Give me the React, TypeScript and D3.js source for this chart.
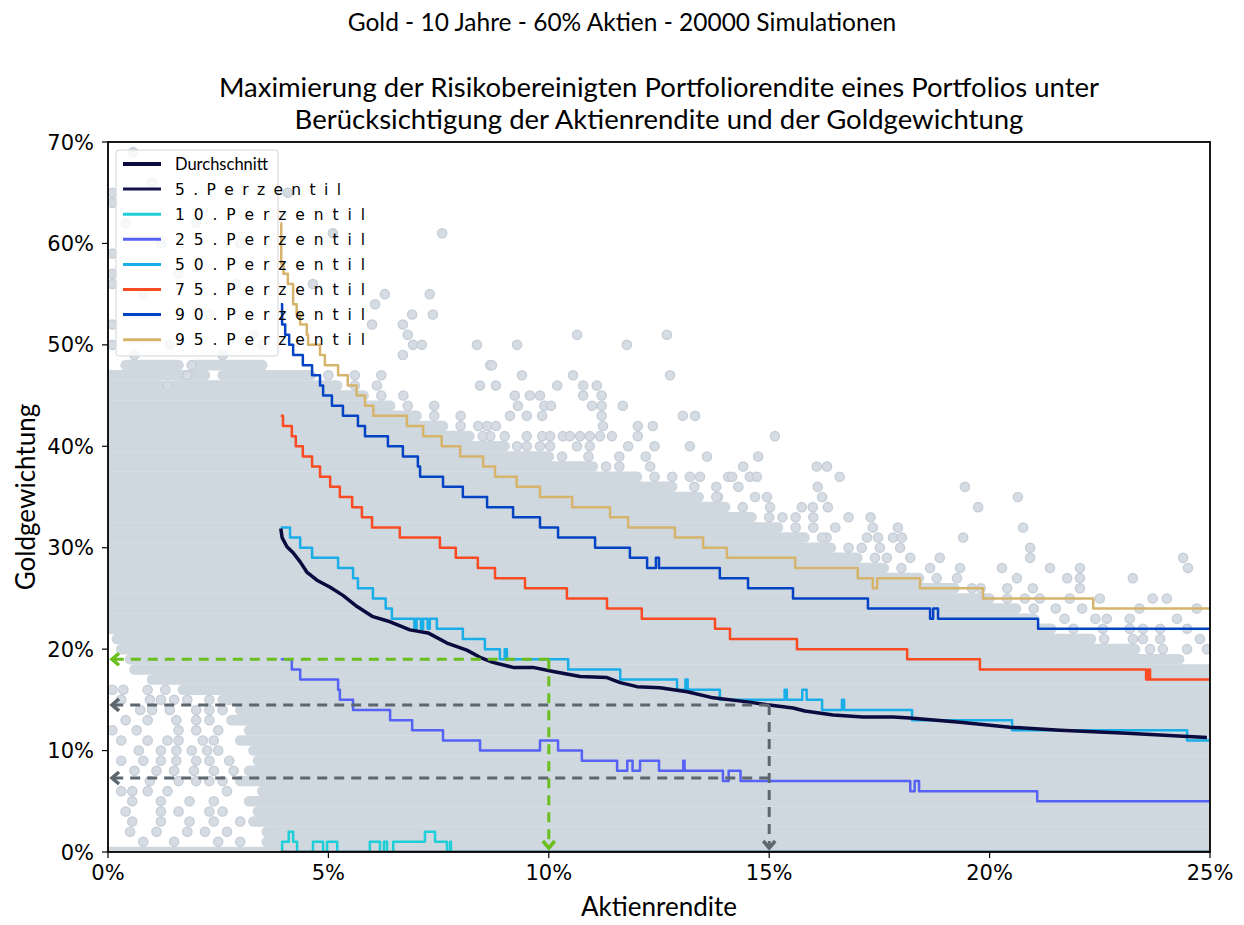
import React from "react";
import * as d3 from "d3";

// axis ticks
const xTicks = [0, 5, 10, 15, 20, 25];
const yTicks = [0, 10, 20, 30, 40, 50, 60, 70];

// mean gold weight over the stock return (x %, gold %)
const average: [number, number][] = [
  [3.92, 31.9], [3.95, 31.0], [4.06, 30.1], [4.2, 29.5], [4.36, 28.6], [4.51, 27.6],
  [4.74, 26.8], [5.04, 26.1], [5.33, 25.3], [5.65, 24.2], [6.01, 23.2], [6.4, 22.7],
  [6.85, 21.9], [7.26, 21.6], [7.69, 20.6], [8.14, 19.9], [8.44, 19.2], [8.73, 18.7],
  [9.19, 18.2], [9.64, 18.2], [10.1, 17.8], [10.71, 17.3], [11.32, 17.2], [11.62, 16.7],
  [12.0, 16.3], [12.52, 16.2], [13.14, 15.8], [13.73, 15.2], [14.5, 14.8], [15.0, 14.5],
  [15.54, 14.2], [15.81, 13.9], [16.45, 13.5], [17.13, 13.3], [17.81, 13.3], [18.19, 13.2],
  [19.33, 12.8], [20.46, 12.3], [21.6, 12.0], [23.12, 11.7], [24.93, 11.3]
];

// percentile step lines (x where the level starts, gold %)
const p5: [number, number][] = [[3.92, 0], [25, 0]];
const p10: [number, number][] = [
  [3.92, 0], [3.95, 1], [4.1, 2], [4.2, 1], [4.29, 0], [4.65, 1], [4.88, 0], [4.97, 1],
  [5.2, 0], [5.94, 1], [6.17, 0], [6.26, 1], [6.33, 0], [6.47, 1], [7.19, 2], [7.42, 1],
  [7.69, 0], [7.76, 1], [7.78, 0], [25, 0]
];
const p25: [number, number][] = [
  [3.92, 19], [4.17, 18], [4.36, 17], [5.22, 16], [5.26, 15], [5.56, 14], [6.4, 13],
  [6.9, 12], [7.6, 11], [8.44, 10], [9.8, 11], [10.21, 10], [10.75, 9], [11.55, 8],
  [11.78, 9], [11.9, 8], [12.07, 9], [12.5, 8], [13.05, 9], [13.08, 8], [13.95, 7],
  [14.08, 8], [14.35, 7], [18.2, 6], [18.3, 7], [18.4, 6], [21.08, 5], [25, 5]
];
const p50: [number, number][] = [
  [3.92, 32], [4.13, 31], [4.36, 30], [4.63, 29], [5.22, 28], [5.56, 27], [5.67, 26],
  [6.01, 25], [6.3, 24], [6.44, 23], [6.95, 22], [7.0, 23], [7.1, 22], [7.15, 23],
  [7.25, 22], [7.3, 23], [7.46, 22], [8.05, 21], [8.55, 20], [8.89, 19], [9.0, 20],
  [9.05, 19], [10.44, 18], [11.62, 17], [12.91, 16], [13.1, 17], [13.15, 16], [13.88, 15],
  [15.35, 16], [15.4, 15], [15.75, 16], [15.85, 15], [16.2, 14], [16.65, 15], [16.7, 14],
  [18.24, 13], [20.51, 12], [24.48, 11], [25, 11]
];
const p75: [number, number][] = [
  [3.92, 43], [3.97, 42], [4.17, 41], [4.26, 40], [4.42, 39], [4.63, 38], [4.81, 37],
  [5.04, 36], [5.26, 35], [5.54, 34], [5.76, 33], [5.99, 32], [6.62, 31], [7.53, 30],
  [7.89, 29], [8.39, 28], [8.78, 27], [9.46, 26], [10.41, 25], [11.32, 24], [12.11, 23],
  [13.77, 22], [14.11, 21], [15.63, 20], [18.13, 19], [19.78, 18], [23.55, 17], [23.6, 18],
  [23.64, 17], [25, 17]
];
const p90: [number, number][] = [
  [3.92, 54], [3.95, 52], [4.02, 51], [4.11, 50], [4.2, 49], [4.42, 48], [4.63, 47],
  [4.81, 46], [4.88, 45], [5.08, 44], [5.33, 43], [5.67, 42], [5.83, 41], [6.35, 40],
  [6.69, 39], [7.03, 38], [7.08, 37], [7.6, 36], [8.05, 35], [8.6, 34], [9.19, 33],
  [9.8, 32], [10.21, 31], [11.05, 30], [11.84, 29], [12.23, 28], [12.43, 29], [12.5, 28],
  [13.88, 27], [14.52, 26], [15.54, 25], [17.24, 24], [18.65, 23], [18.72, 24], [18.83, 23],
  [21.1, 22], [25, 22]
];
const p95: [number, number][] = [
  [3.92, 62], [3.93, 58], [3.98, 57], [4.08, 56], [4.2, 54], [4.28, 53], [4.36, 52],
  [4.51, 51], [4.54, 50], [4.81, 49], [4.92, 48], [5.22, 47], [5.44, 46], [5.64, 45],
  [5.83, 44], [6.02, 43], [6.78, 42], [7.15, 41], [7.57, 40], [7.99, 39], [8.51, 38],
  [8.78, 37], [9.27, 36], [9.8, 35], [10.53, 34], [11.39, 33], [11.8, 32], [12.86, 31],
  [13.5, 30], [14.04, 29], [15.59, 28], [17.01, 27], [17.35, 26], [17.45, 27], [18.42, 26],
  [19.85, 25], [22.35, 24], [25, 24]
];

// simulation cloud: rows of overlapping points (gold %, x from, x to)
const cloudRows: [number, number, number][] = [
  [0, 0, 25], [1, 3.6, 25], [2, 3.6, 25], [3, 3.3, 25], [4, 3.4, 25], [5, 3.2, 25],
  [6, 3.5, 25], [7, 3.0, 25], [8, 3.2, 25], [9, 3.4, 25], [10, 3.3, 25], [11, 3.0, 25],
  [12, 3.2, 25], [13, 2.8, 25], [14, 3.0, 25], [15, 2.6, 25], [16, 1.7, 25], [17, 1.0, 25],
  [18, 0.6, 25], [19, 0.5, 24.3], [20, 0.3, 23.3], [21, 0.2, 22.3], [22, 0, 21.4],
  [23, 0, 21.0], [24, 0, 20.6], [25, 0, 20.0], [26, 0, 19.2], [27, 0, 18.4], [28, 0, 17.6],
  [29, 0, 17.0], [30, 0, 16.4], [31, 0, 15.8], [32, 0, 15.2], [33, 0, 14.6], [34, 0, 14.0],
  [35, 0, 13.4], [36, 0, 12.8], [37, 0, 12.0], [38, 0, 11.0], [39, 0, 10.0], [40, 0, 9.0],
  [41, 0, 8.2], [42, 0, 7.6], [43, 0, 7.0], [44, 0, 6.4], [45, 0, 5.8], [46, 0, 1.2],
  [46, 1.5, 5.2], [47, 0, 2.2], [47, 2.6, 4.6], [48, 0.4, 1.6], [48, 2.0, 3.5]
];

// single points outside the dense cloud (x %, gold %)
const loosePoints: [number, number][] = [
  [0.57, 69], [0.1, 65], [0.1, 64], [0.1, 59], [0.1, 57], [0.1, 56], [0.1, 52], [0.1, 50],
  [0.4, 62], [1.2, 60], [0.8, 55], [1.6, 57], [2.3, 53], [2.9, 56], [3.3, 51], [1.4, 50],
  [2.6, 49], [0.6, 49], [3.5, 50], [2.0, 62], [1.0, 66], [3.0, 60],
  [4.08, 65], [5.1, 61], [7.58, 61], [4.65, 56], [6.28, 55], [7.3, 55], [6.06, 54], [6.9, 53],
  [7.37, 53], [5.99, 52], [6.69, 52], [6.8, 51], [6.92, 50], [7.12, 50], [8.37, 50], [9.28, 50],
  [6.69, 49], [8.67, 48], [9.39, 47], [10.64, 51], [12.68, 51], [11.77, 50], [8.71, 48],
  [10.55, 47], [12.75, 47], [10.19, 46], [10.78, 46], [11.09, 46], [8.44, 46], [8.8, 46],
  [9.23, 45], [9.57, 45], [9.8, 45], [10.78, 45], [11.2, 45], [9.3, 44], [9.9, 44], [10.05, 44],
  [10.98, 44], [11.2, 44], [11.68, 44], [9.12, 43], [9.5, 43], [9.85, 43], [11.2, 43],
  [13.04, 43], [13.32, 43], [8.6, 42], [8.8, 42], [11.23, 42], [12.02, 42], [12.36, 42],
  [8.67, 41], [9.0, 41], [9.5, 41], [9.85, 41], [10.03, 41], [10.32, 41], [10.48, 41],
  [10.71, 41], [10.93, 41], [11.16, 41], [11.43, 41], [12.02, 41], [15.13, 41], [9.28, 40],
  [9.8, 40], [10.03, 40], [10.64, 40], [10.93, 40], [11.8, 40], [12.4, 40], [13.2, 40],
  [10.9, 39], [11.6, 39], [12.2, 39], [13.59, 39], [14.75, 39], [11.3, 38], [14.41, 38],
  [16.08, 38], [16.31, 38], [13.2, 37], [13.43, 37], [14.07, 37], [14.16, 37], [14.56, 37],
  [14.72, 37], [16.6, 37], [16.1, 36], [19.44, 36], [13.84, 35], [14.68, 35], [14.95, 35],
  [16.2, 35], [20.64, 35], [15.02, 34], [15.74, 34], [15.99, 34], [16.33, 34], [19.74, 34],
  [15.3, 33], [16.0, 33], [16.8, 33], [17.3, 33], [16.0, 32], [17.35, 32], [17.92, 32],
  [20.76, 32], [16.3, 31], [17.22, 31], [17.47, 31], [17.81, 31], [18.01, 31], [19.4, 31],
  [17.51, 30], [17.97, 30], [20.92, 30], [17.67, 29], [18.87, 29], [20.92, 29], [24.39, 29],
  [18.65, 28], [19.33, 28], [20.28, 28], [21.37, 28], [22.05, 28], [24.5, 28], [19.26, 27],
  [20.62, 27], [21.76, 27], [22.05, 27], [23.25, 27], [19.8, 26], [20.98, 26], [22.05, 26],
  [21.14, 25], [21.82, 25], [22.5, 25], [23.7, 25], [24.02, 25], [21.5, 24], [22.1, 24],
  [23.4, 24], [24.7, 24], [21.7, 23], [22.4, 23], [22.66, 23], [23.18, 23], [24.25, 23],
  [21.9, 22], [22.57, 22], [23.18, 22], [23.48, 22], [23.87, 22], [24.48, 22], [22.6, 21],
  [23.25, 21], [23.48, 21], [23.87, 21], [24.77, 21], [23.64, 20], [23.93, 20], [24.48, 20],
  [24.93, 20],
  [5.0, 47], [5.6, 47], [6.2, 47], [5.6, 46], [6.1, 46], [6.2, 45], [6.7, 45], [6.8, 44],
  [7.4, 44], [7.4, 43], [8.0, 43], [8.0, 42], [8.4, 42], [8.5, 41], [9.5, 40], [10.3, 39],
  [11.6, 38], [12.3, 38], [12.4, 37], [12.8, 37], [13.3, 36], [13.8, 36], [14.3, 36],
  [13.8, 35], [14.4, 34], [15.0, 33], [15.6, 33], [15.6, 32], [16.5, 32], [16.2, 31],
  [16.8, 30], [17.1, 30], [17.4, 29], [18.2, 29], [18.0, 28], [18.8, 27], [19.6, 26],
  [20.4, 26], [20.4, 25], [20.8, 25], [21.0, 24],
  [0.1, 16], [0.35, 16], [0.9, 16], [1.3, 16], [0.95, 15], [1.8, 15], [2.3, 15], [0.73, 14],
  [1.0, 14], [1.4, 14], [2.0, 14], [2.3, 14], [2.6, 14], [1.55, 13], [2.0, 13], [0.1, 12],
  [0.65, 12], [1.6, 12], [2.0, 12], [2.5, 12], [1.35, 11], [1.6, 11], [2.15, 11], [2.4, 11],
  [0.7, 10], [1.2, 10], [1.55, 10], [2.25, 10], [2.5, 10], [0.8, 9], [1.55, 9], [2.0, 9],
  [2.3, 9], [2.75, 9], [1.5, 8], [1.95, 8], [2.4, 8], [2.85, 8], [0.95, 7], [1.6, 7], [2.3, 7],
  [0.3, 6], [0.55, 6], [0.9, 6], [1.35, 6], [2.7, 6], [0.55, 5], [1.85, 5], [1.2, 4], [2.3, 4],
  [2.6, 4], [0.55, 3], [1.85, 3], [1.8, 2], [2.7, 2], [2.5, 1],
  [0.3, 15], [1.2, 15], [1.5, 15], [0.4, 13], [0.9, 13], [2.3, 13], [0.3, 11], [0.9, 11],
  [1.9, 10], [0.3, 9], [1.2, 9], [0.6, 8], [1.1, 8], [2.0, 7], [2.6, 7], [1.2, 5], [2.4, 5],
  [0.4, 4], [1.6, 4], [1.2, 3], [2.4, 3], [3.0, 3], [0.5, 2], [1.1, 2], [2.2, 2], [0.8, 1],
  [1.5, 1], [3.0, 1], [1.9, 48], [1.8, 47], [1.35, 46]
];

// read-off guides: stock return -> gold weight
const guides = [
  { x: 10, y: 19, color: "#6abf1f", down: true },
  { x: 15, y: 14.5, color: "#5d6770", down: true },
  { x: 15, y: 7.3, color: "#5d6770", down: false }
];

const series = [
  { label: "Durchschnitt", color: "#0b0a3f", data: average, step: false, width: 3.5 },
  { label: "5 . P e r z e n t i l", color: "#16144c", data: p5, step: true, width: 2.5 },
  { label: "1 0 . P e r z e n t i l", color: "#1fcfd8", data: p10, step: true, width: 2.5 },
  { label: "2 5 . P e r z e n t i l", color: "#5662f5", data: p25, step: true, width: 2.5 },
  { label: "5 0 . P e r z e n t i l", color: "#1aaee8", data: p50, step: true, width: 2.5 },
  { label: "7 5 . P e r z e n t i l", color: "#fa4b22", data: p75, step: true, width: 2.5 },
  { label: "9 0 . P e r z e n t i l", color: "#0444c4", data: p90, step: true, width: 2.5 },
  { label: "9 5 . P e r z e n t i l", color: "#d6b46c", data: p95, step: true, width: 2.5 }
];

const W = 1244, H = 925;
const L = 108, R = 1210, T = 142, B = 852;
const titleFont = "Lato, 'Open Sans', sans-serif";
const tickFont = "'DejaVu Sans', sans-serif";

export default function App() {
  const x = d3.scaleLinear().domain([0, 25]).range([L, R]);
  const y = d3.scaleLinear().domain([0, 70]).range([B, T]);
  const stepLine = d3.line<[number, number]>().x(d => x(d[0])).y(d => y(d[1])).curve(d3.curveStepAfter);
  const smoothLine = d3.line<[number, number]>().x(d => x(d[0])).y(d => y(d[1]));
  const rowLine = (r: [number, number, number]) => `M${x(r[1])},${y(r[0])}H${x(r[2])}`;

  return (
    <svg width={W} height={H} style={{ position: "absolute", left: 0, top: 0, background: "#fff" }}>
      <defs>
        <clipPath id="plot">
          <rect x={L} y={T} width={R - L} height={B - T} />
        </clipPath>
      </defs>

      <text x={622} y={31} textAnchor="middle" fontFamily={titleFont} fontSize={24.5}>
        Gold - 10 Jahre - 60% Aktien - 20000 Simulationen
      </text>
      <text x={659} y={97} textAnchor="middle" fontFamily={titleFont} fontSize={27.5}>
        Maximierung der Risikobereinigten Portfoliorendite eines Portfolios unter
      </text>
      <text x={659} y={129} textAnchor="middle" fontFamily={titleFont} fontSize={27.5}>
        Berücksichtigung der Aktienrendite und der Goldgewichtung
      </text>

      <g clipPath="url(#plot)">
        {cloudRows.map((r, i) => (
          <path key={"r" + i} d={rowLine(r)} stroke="#cfd7df" strokeWidth={10.6} strokeLinecap="round" fill="none" />
        ))}
        {loosePoints.map((p, i) => (
          <circle key={"p" + i} cx={x(p[0])} cy={y(p[1])} r={4.6} fill="#d5dce3" stroke="#c6ced7" strokeWidth={1.4} />
        ))}
        {series.slice().reverse().map(s => (
          <path key={s.label} d={(s.step ? stepLine : smoothLine)(s.data) || ""} fill="none"
            stroke={s.color} strokeWidth={s.width} strokeLinejoin="round" />
        ))}
        {guides.map((g, i) => {
          const gx = x(g.x), gy = y(g.y), x0 = x(0), y0 = y(0);
          return (
            <g key={"g" + i} stroke={g.color} strokeWidth={3} fill="none">
              <path d={`M${gx},${gy}H${x0 + 4}`} strokeDasharray="10,7" />
              <path d={`M${x0 + 11},${gy - 6}L${x0 + 4},${gy}L${x0 + 11},${gy + 6}`} strokeWidth={3.5} />
              {g.down && <path d={`M${gx},${gy}V${y0 - 4}`} strokeDasharray="10,7" />}
              {g.down && <path d={`M${gx - 6},${y0 - 11}L${gx},${y0 - 4}L${gx + 6},${y0 - 11}`} strokeWidth={3.5} />}
            </g>
          );
        })}
      </g>

      <rect x={L} y={T} width={R - L} height={B - T} fill="none" stroke="#000" strokeWidth={1.8} />

      {yTicks.map(t => (
        <g key={"y" + t}>
          <line x1={L - 6} x2={L} y1={y(t)} y2={y(t)} stroke="#000" strokeWidth={1.2} />
          <text x={L - 14} y={y(t)} dy="0.36em" textAnchor="end" fontFamily={tickFont} fontSize={21}>{t}%</text>
        </g>
      ))}
      {xTicks.map(t => (
        <g key={"x" + t}>
          <line x1={x(t)} x2={x(t)} y1={B} y2={B + 6} stroke="#000" strokeWidth={1.2} />
          <text x={x(t)} y={B + 28} textAnchor="middle" fontFamily={tickFont} fontSize={21}>{t}%</text>
        </g>
      ))}
      <text x={659} y={916} textAnchor="middle" fontFamily={titleFont} fontSize={26}>Aktienrendite</text>
      <text transform={`translate(35,497) rotate(-90)`} textAnchor="middle" fontFamily={titleFont} fontSize={26}>Goldgewichtung</text>

      <g>
        <rect x={116} y={150} width={162} height={206} rx={3} fill="#fff" fillOpacity={0.8} stroke="#d4d4d4" />
        {series.map((s, i) => {
          const ly = 164 + i * 25.1;
          return (
            <g key={"l" + i}>
              <line x1={123} x2={161} y1={ly} y2={ly} stroke={s.color} strokeWidth={i === 0 ? 4 : 3} />
              {i === 0 ? (
                <text x={175} y={ly} dy="0.35em" fontFamily={titleFont} fontSize={16.5}>{s.label}</text>
              ) : (
                <text x={175} y={ly} dy="0.36em" fontFamily={tickFont} fontSize={15.5}
                  textLength={s.label.length > 21 ? 190 : 166} lengthAdjust="spacing">{s.label}</text>
              )}
            </g>
          );
        })}
      </g>
    </svg>
  );
}
